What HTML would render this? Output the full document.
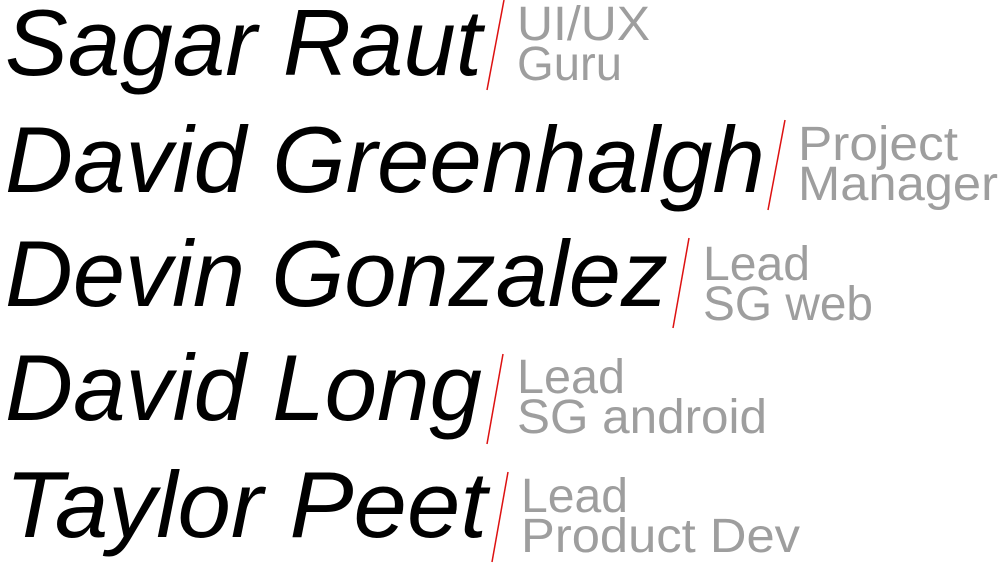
<!DOCTYPE html>
<html><head><meta charset="utf-8"><style>
html,body{margin:0;padding:0;background:#fff;width:1000px;height:569px;overflow:hidden}
svg{display:block}
.n{font-family:"Liberation Sans",sans-serif;font-style:italic;font-size:94px;fill:#000}
.g{font-family:"Liberation Sans",sans-serif;font-size:48px;fill:#9e9e9e}
line{stroke:#d11;stroke-width:1.5}
</style></head><body>
<svg width="1000" height="569" viewBox="0 0 1000 569">
<text class="n" x="5" y="75" textLength="477" lengthAdjust="spacingAndGlyphs">Sagar Raut</text>
<line x1="504" y1="0" x2="487" y2="90"/>
<text class="g" x="517" y="40" textLength="133" lengthAdjust="spacingAndGlyphs">UI/UX</text>
<text class="g" x="517" y="80" textLength="105" lengthAdjust="spacingAndGlyphs">Guru</text>

<text class="n" x="5" y="192" textLength="760" lengthAdjust="spacingAndGlyphs">David Greenhalgh</text>
<line x1="785" y1="120" x2="768" y2="210"/>
<text class="g" x="798" y="160" textLength="160" lengthAdjust="spacingAndGlyphs">Project</text>
<text class="g" x="798" y="200" textLength="200" lengthAdjust="spacingAndGlyphs">Manager</text>

<text class="n" x="5" y="306" textLength="663" lengthAdjust="spacingAndGlyphs">Devin Gonzalez</text>
<line x1="689" y1="238" x2="673" y2="328"/>
<text class="g" x="703" y="280" textLength="107" lengthAdjust="spacingAndGlyphs">Lead</text>
<text class="g" x="703" y="320" textLength="170" lengthAdjust="spacingAndGlyphs">SG web</text>

<text class="n" x="5" y="420" textLength="477" lengthAdjust="spacingAndGlyphs">David Long</text>
<line x1="503" y1="354" x2="487" y2="444"/>
<text class="g" x="517" y="393" textLength="108" lengthAdjust="spacingAndGlyphs">Lead</text>
<text class="g" x="517" y="433" textLength="250" lengthAdjust="spacingAndGlyphs">SG android</text>

<text class="n" x="5" y="537" textLength="482" lengthAdjust="spacingAndGlyphs">Taylor Peet</text>
<line x1="508" y1="472" x2="492" y2="562"/>
<text class="g" x="521" y="512" textLength="107" lengthAdjust="spacingAndGlyphs">Lead</text>
<text class="g" x="521" y="552" textLength="279" lengthAdjust="spacingAndGlyphs">Product Dev</text>
</svg>
</body></html>
